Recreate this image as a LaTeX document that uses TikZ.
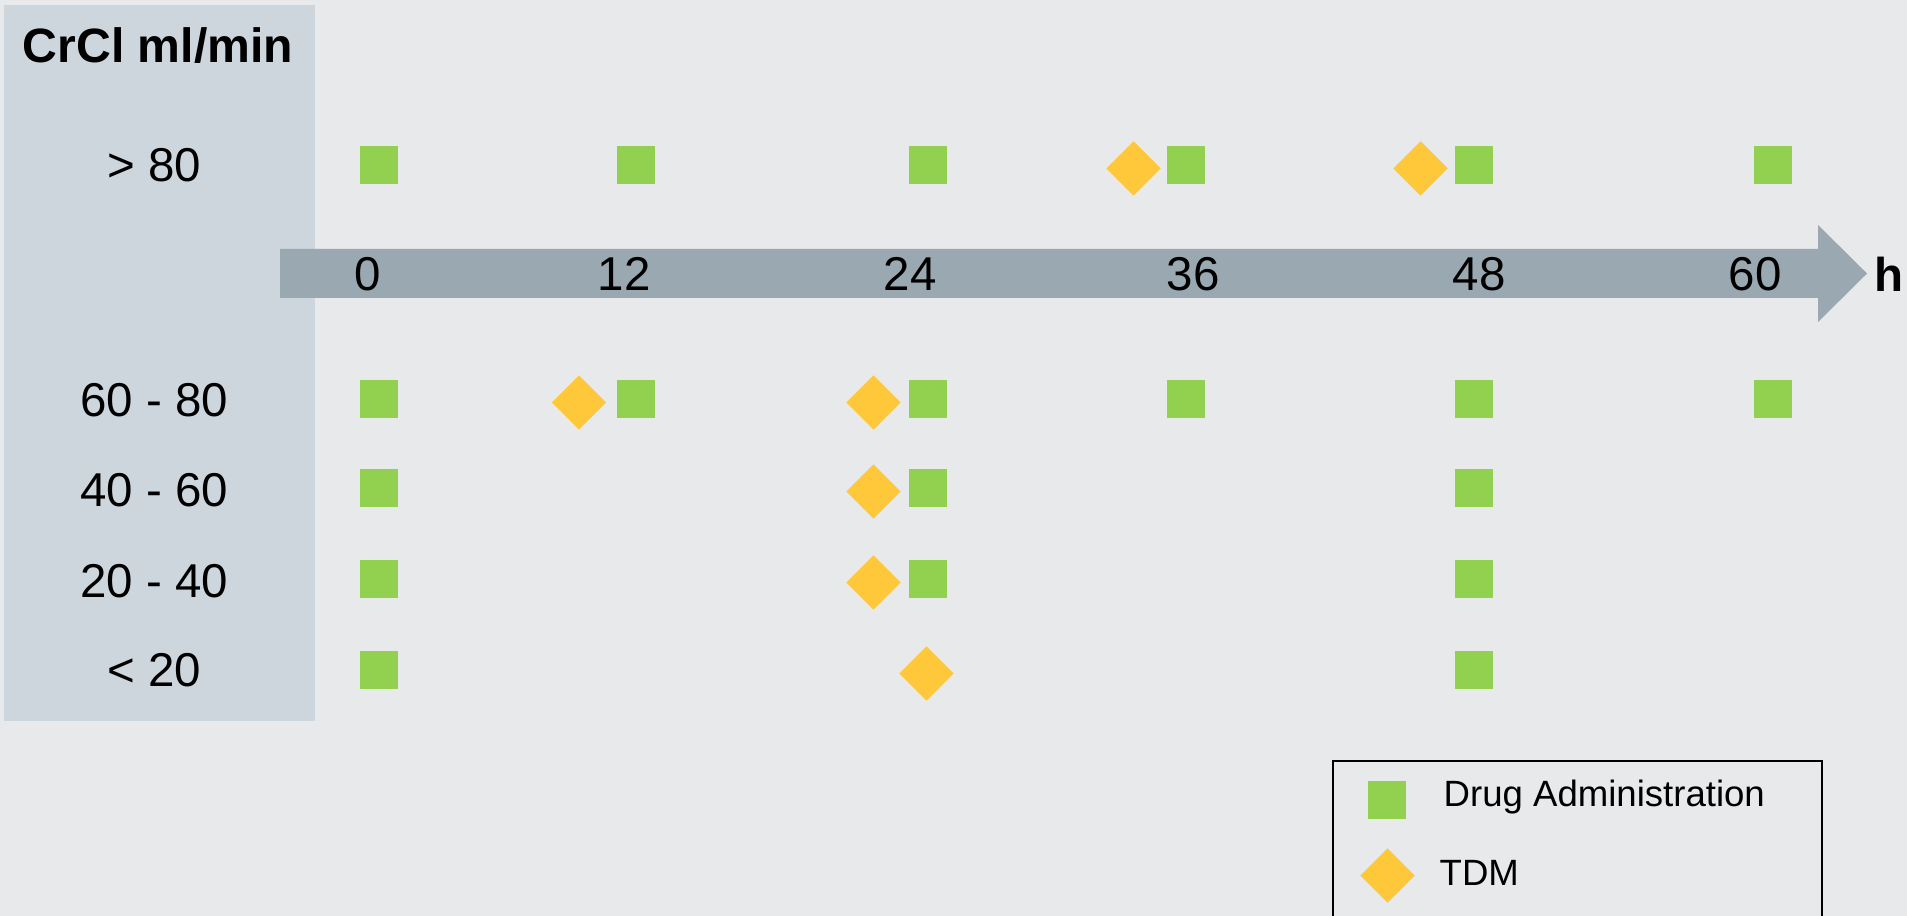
\documentclass[tikz,border=0pt]{standalone}
\usepackage{fontspec}
\setmainfont{Liberation Sans}
\usepackage{xcolor}
\definecolor{BgGrey}{HTML}{E7E9EB}
\definecolor{PanelGrey}{HTML}{CDD6DC}
\definecolor{AxisGrey}{HTML}{99A8B1}
\definecolor{DoseGreen}{HTML}{92D050}
\definecolor{TdmGold}{HTML}{FFC73A}
\usepackage{tikz}
\usetikzlibrary{shapes.geometric,positioning}

\begin{document}
\begin{tikzpicture}[x=0.01cm,y=-0.01cm,
  dose/.style={fill=DoseGreen,inner sep=0pt,minimum size=0.38cm},
  tdm/.style={diamond,fill=TdmGold,inner sep=0pt,minimum size=0.55cm},
  lbl/.style={font=\fontsize{13.5}{16}\selectfont,inner sep=0pt,text depth=0pt},
  legtxt/.style={font=\fontsize{10.4}{12}\selectfont,inner sep=0pt,anchor=base west}
]
  \useasboundingbox (0,0) rectangle (1907,916);
  \fill[BgGrey] (0,0) rectangle (1907,916);
  \fill[PanelGrey] (4,5) rectangle (315,721);
  \fill[AxisGrey] (280,249) -- (1818,249) -- (1818,225) -- (1867,273.5)
    -- (1818,322) -- (1818,298) -- (280,298) -- cycle;

  % header and rows
  \node[lbl,font=\fontsize{13.7}{16}\selectfont\bfseries] (head) at (158,45) {CrCl ml/min};
  \node[lbl] (r80) at (154,165) {> 80};
  \node[lbl] (r6080) at (154,400) {60 - 80};
  \node[lbl] (r4060) at (154,490) {40 - 60};
  \node[lbl] (r2040) at (154,581) {20 - 40};
  \node[lbl] (r20) at (154,670) {< 20};

  % time axis
  \node[lbl] (t0) at (368,274) {0};
  \node[lbl] (t12) at (624,274) {12};
  \node[lbl] (t24) at (910,274) {24};
  \node[lbl] (t36) at (1193,274) {36};
  \node[lbl] (t48) at (1479,274) {48};
  \node[lbl] (t60) at (1755,274) {60};
  \node[lbl,font=\fontsize{13.5}{16}\selectfont\bfseries] (hrs) at (1889,274) {h};

  % > 80
  \node[dose] (a1) at (379,165) {};
  \node[dose] (a2) at (636,165) {};
  \node[dose] (a3) at (928,165) {};
  \node[dose] (a4) at (1186,165) {};
  \node[dose] (a5) at (1474,165) {};
  \node[dose] (a6) at (1773,165) {};
  \node[tdm] (am1) at (1133.5,168.5) {};
  \node[tdm] (am2) at (1420.5,168.5) {};

  % 60 - 80
  \node[dose] (b1) at (379,399) {};
  \node[dose] (b2) at (636,399) {};
  \node[dose] (b3) at (928,399) {};
  \node[dose] (b4) at (1186,399) {};
  \node[dose] (b5) at (1474,399) {};
  \node[dose] (b6) at (1773,399) {};
  \node[tdm] (bm1) at (579,402.5) {};
  \node[tdm] (bm2) at (873.5,402.5) {};

  % 40 - 60
  \node[dose] (c1) at (379,488) {};
  \node[dose] (c2) at (928,488) {};
  \node[dose] (c3) at (1474,488) {};
  \node[tdm] (cm1) at (873.5,491.5) {};

  % 20 - 40
  \node[dose] (d1) at (379,579) {};
  \node[dose] (d2) at (928,579) {};
  \node[dose] (d3) at (1474,579) {};
  \node[tdm] (dm1) at (873.5,582.5) {};

  % < 20
  \node[dose] (e1) at (379,670) {};
  \node[dose] (e2) at (1474,670) {};
  \node[tdm] (em1) at (926.5,673.5) {};

  % legend
  \draw[line width=0.45pt] (1333,916) -- (1333,761) -- (1822,761) -- (1822,916);
  \node[dose] (legdose) at (1387,800) {};
  \node[legtxt] (legdosetxt) at (1443,806.7) {Drug Administration};
  \node[tdm] (legtdm) at (1387.5,875.5) {};
  \node[legtxt] (legtdmtxt) at (1439,885) {TDM};
\end{tikzpicture}
\end{document}
